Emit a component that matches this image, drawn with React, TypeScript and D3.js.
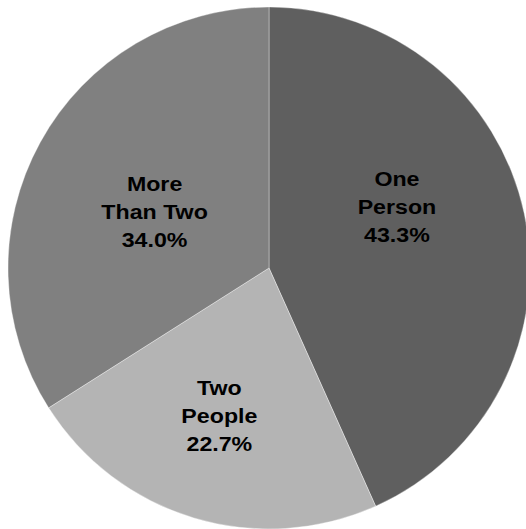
import React from "react";
import * as d3 from "d3";

const categories = ["One Person", "Two People", "More Than Two"];
const labelLines = [["One", "Person"], ["Two", "People"], ["More", "Than Two"]];
const values = [43.3, 22.7, 34.0];
const colors = ["#5f5f5f", "#b4b4b4", "#808080"];

// layout: label placement relative to each slice's mid-angle
const labelRadiusFactor = [0.543, 0.598, 0.488];
const labelAngleShiftDeg = [-13.4, 1.8, -2.75];

const W = 526;
const H = 529;
const CX = 269;
const CY = 268;
const R = 261;
const FONT = 20;
const XSCALE = 1.16;
const LINE = 27.8;

export default function App() {
  const data = categories.map((c, i) => ({ c, v: values[i], i }));
  const pie = d3.pie<any>().value((d) => d.v).sort(null);
  const arcs = pie(data);
  const arc = d3.arc<any>().innerRadius(0).outerRadius(R);

  return (
    <svg width={W} height={H} style={{ position: "absolute", left: 0, top: 0 }}>
      <g transform={`translate(${CX},${CY})`}>
        {arcs.map((a, i) => (
          <path key={i} d={arc(a) as string} fill={colors[i]} stroke="#ffffff" strokeOpacity={0.45} strokeWidth={0.8} />
        ))}
        {arcs.map((a, i) => {
          const mid = (a.startAngle + a.endAngle) / 2 + (labelAngleShiftDeg[i] * Math.PI) / 180;
          const rr = R * labelRadiusFactor[i];
          const x = Math.sin(mid) * rr;
          const y = -Math.cos(mid) * rr;
          const lines = [...labelLines[i], d3.format(".1f")(values[i]) + "%"];
          const baseMid = y + FONT * 0.716 / 2;
          return (
            <g key={"l" + i} transform={`translate(${x},${baseMid}) scale(${XSCALE},1)`}>
              {lines.map((t, k) => (
                <text
                  key={k}
                  x={0}
                  y={(k - 1) * LINE}
                  textAnchor="middle"
                  fontFamily="'Liberation Sans', Arial, sans-serif"
                  fontWeight="bold"
                  fontSize={FONT}
                  fill="#000"
                >
                  {t}
                </text>
              ))}
            </g>
          );
        })}
      </g>
    </svg>
  );
}
